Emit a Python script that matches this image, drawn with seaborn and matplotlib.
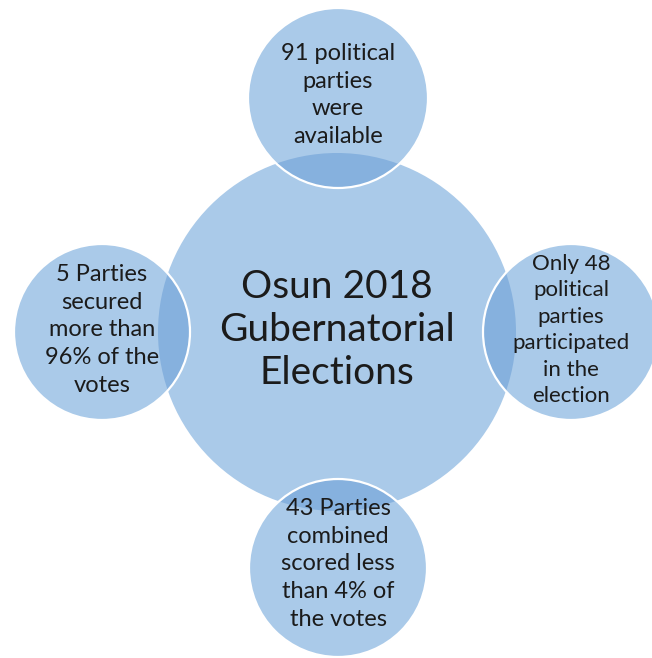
import matplotlib
matplotlib.use("Agg")
import matplotlib.pyplot as plt
from matplotlib.patches import Circle
import seaborn as sns

# ---- data ----
center_label = "Osun 2018\nGubernatorial\nElections"
center_xy = (337, 332)
center_r = 179

sat_labels = [
    "91 political\nparties\nwere\navailable",
    "Only 48\npolitical\nparties\nparticipated\nin the\nelection",
    "43 Parties\ncombined\nscored less\nthan 4% of\nthe votes",
    "5 Parties\nsecured\nmore than\n96% of the\nvotes",
]
sat_x = [338, 571, 338, 102]
sat_y = [98, 332, 568, 332]
sat_r = [90, 88, 89, 88]
sat_text_y = [95, 330, 564, 330]
sat_fontsize = [17, 16, 17, 17]
sat_linespacing = [1.385, 1.40, 1.385, 1.385]

fill_color = "#AACAE9"
lens_color = "#86B1DE"
text_color = "#1b1b1b"

sns.set_theme(style="white")
plt.rcParams['font.family'] = ['Lato', 'DejaVu Sans']

fig = plt.figure(figsize=(6.52, 6.58), dpi=100)
ax = fig.add_axes([0, 0, 1, 1])
ax.set_xlim(0, 652)
ax.set_ylim(658, 0)
ax.set_aspect('equal')
ax.axis('off')

central = Circle(center_xy, center_r, facecolor=fill_color, edgecolor='none', zorder=1)
ax.add_patch(central)

for x, y, r in zip(sat_x, sat_y, sat_r):
    sat = Circle((x, y), r, facecolor=fill_color, edgecolor='none', zorder=2)
    ax.add_patch(sat)
    lens = Circle((x, y), r, facecolor=lens_color, edgecolor='none', zorder=3)
    ax.add_patch(lens)
    clip = Circle(center_xy, center_r, transform=ax.transData)
    lens.set_clip_path(clip)
    rim = Circle((x, y), r, facecolor='none', edgecolor='white', linewidth=1.6, zorder=4)
    ax.add_patch(rim)

ax.text(center_xy[0], 330, center_label, ha='center', va='center',
        fontsize=28, color=text_color, linespacing=1.245, zorder=5)

for lab, x, ty, fs, ls in zip(sat_labels, sat_x, sat_text_y, sat_fontsize, sat_linespacing):
    ax.text(x, ty, lab, ha='center', va='center', fontsize=fs,
            color=text_color, linespacing=ls, zorder=5)

fig.savefig("out.png", dpi=100)
